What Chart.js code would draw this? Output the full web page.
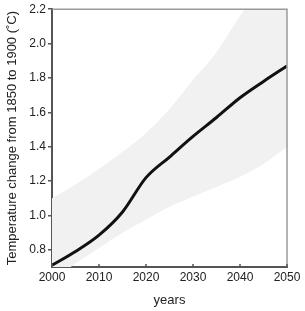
<!DOCTYPE html>
<html>
<head>
<meta charset="utf-8">
<script src="https://cdn.jsdelivr.net/npm/chart.js@4"></script>
<style>
  html, body { margin: 0; padding: 0; background: #fff; }
  #wrap { width: 305px; height: 311px; }
</style>
</head>
<body>
<div id="wrap"><canvas id="tempChart" width="305" height="311"></canvas></div>
<script>
// values
var years = [2000, 2005, 2010, 2015, 2020, 2025, 2030, 2035, 2040, 2045, 2050];
var temps = [0.71, 0.79, 0.885, 1.02, 1.22, 1.34, 1.46, 1.57, 1.685, 1.78, 1.87];
var upper = [1.10, 1.18, 1.27, 1.37, 1.48, 1.62, 1.79, 1.95, 2.16, 2.35, 2.55];
var lower = [0.62, 0.72, 0.81, 0.90, 0.975, 1.05, 1.11, 1.165, 1.225, 1.30, 1.40];
var xTicks = [2000, 2010, 2020, 2030, 2040, 2050];
var yTicks = [0.8, 1.0, 1.2, 1.4, 1.6, 1.8, 2.0, 2.2];

function pts(arr) {
    return years.map(function (y, i) { return { x: y, y: arr[i] }; });
}

// light frame on top/right and the small inward ticks on the x axis
var frame = {
    id: "frame",
    afterDraw: function (chart) {
        var ctx = chart.ctx;
        var a = chart.chartArea;
        var xs = chart.scales.x;
        ctx.save();
        ctx.strokeStyle = "#9a9a9a";
        ctx.lineWidth = 1.5;
        ctx.beginPath();
        ctx.moveTo(a.left, a.top);
        ctx.lineTo(a.right, a.top);
        ctx.lineTo(a.right, a.bottom);
        ctx.stroke();
        ctx.strokeStyle = "#555";
        xTicks.forEach(function (t) {
            var px = xs.getPixelForValue(t);
            ctx.beginPath();
            ctx.moveTo(px, a.bottom);
            ctx.lineTo(px, a.bottom - 3);
            ctx.stroke();
        });
        ctx.restore();
    }
};

var tickFont = { family: "'Liberation Sans', Arial, sans-serif", size: 12 };
var titleFont = { family: "'Liberation Sans', Arial, sans-serif", size: 13 };

new Chart(document.getElementById("tempChart").getContext("2d"), {
    type: "line",
    data: {
        datasets: [{
            label: "upper",
            data: pts(upper),
            borderWidth: 0,
            pointRadius: 0,
            cubicInterpolationMode: "monotone",
            fill: "+1",
            backgroundColor: "#f1f1f1",
            order: 2
        }, {
            label: "lower",
            data: pts(lower),
            borderWidth: 0,
            pointRadius: 0,
            cubicInterpolationMode: "monotone",
            fill: false,
            order: 3
        }, {
            label: "Temperature",
            data: pts(temps),
            borderColor: "#111",
            borderWidth: 3,
            pointRadius: 0,
            cubicInterpolationMode: "monotone",
            fill: false,
            order: 0
        }]
    },
    options: {
        responsive: false,
        animation: false,
        layout: { padding: { top: 9, right: 18, left: 0, bottom: 0 } },
        plugins: { legend: { display: false }, tooltip: { enabled: false } },
        scales: {
            x: {
                type: "linear",
                min: 2000,
                max: 2050,
                afterBuildTicks: function (s) { s.ticks = xTicks.map(function (v) { return { value: v }; }); },
                afterFit: function (s) { s.height = 44; },
                ticks: { color: "#222", font: tickFont, padding: 3, maxRotation: 0, callback: function (v) { return String(v); } },
                grid: { display: false, drawTicks: false, tickLength: 0 },
                border: { color: "#555", width: 2 },
                title: { display: true, text: "years", color: "#222", font: titleFont, padding: { top: 2, bottom: 3 } }
            },
            y: {
                min: 0.7,
                max: 2.2,
                afterBuildTicks: function (s) { s.ticks = yTicks.map(function (v) { return { value: v }; }); },
                afterFit: function (s) { s.width = 52; },
                ticks: { color: "#222", font: tickFont, padding: 2, callback: function (v) { return v.toFixed(1); } },
                grid: { drawOnChartArea: false, tickLength: 4, color: "#555", lineWidth: 1.5 },
                border: { color: "#555", width: 2 },
                title: { display: true, text: "Temperature change from 1850 to 1900 (˚C)", color: "#222", font: titleFont, padding: { top: 5, bottom: 2 } }
            }
        }
    },
    plugins: [frame]
});
</script>
</body>
</html>
